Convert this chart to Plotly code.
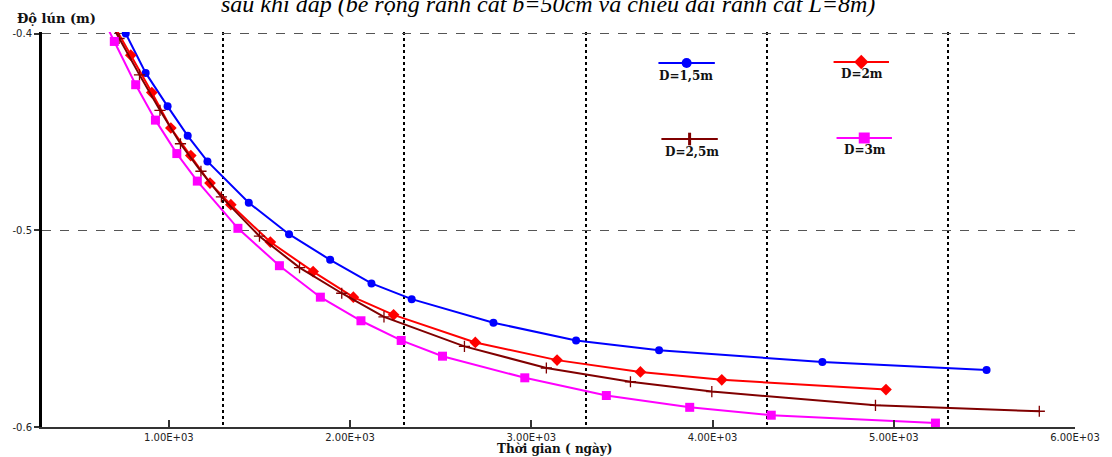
import plotly.graph_objects as go

# ---------------- data ----------------
x_d15 = [652, 762, 872, 993, 1104, 1213, 1441, 1663, 1890, 2118, 2340, 2791, 3247, 3705, 4606, 5512]
y_d15 = [-0.380, -0.400, -0.420, -0.437, -0.452, -0.465, -0.486, -0.502, -0.515, -0.527, -0.535,
         -0.547, -0.556, -0.561, -0.567, -0.571]

x_d20 = [686, 790, 906, 1011, 1121, 1227, 1342, 1560, 1796, 2018, 2240, 2691, 3142, 3602, 4051, 4957]
y_d20 = [-0.394, -0.411, -0.430, -0.448, -0.462, -0.476, -0.487, -0.506, -0.521, -0.534, -0.543,
         -0.557, -0.566, -0.572, -0.576, -0.581]

x_d25 = [612, 725, 838, 951, 1064, 1177, 1290, 1500, 1721, 1954, 2187, 2631, 3083, 3547, 3996, 4899, 5803]
y_d25 = [-0.3835, -0.4025, -0.421, -0.439, -0.456, -0.470, -0.483, -0.503, -0.519, -0.532, -0.544,
         -0.559, -0.570, -0.577, -0.582, -0.589, -0.592]

x_d30 = [584, 699, 817, 926, 1044, 1157, 1381, 1610, 1836, 2060, 2282, 2510, 2964, 3414, 3874, 4324, 5230]
y_d30 = [-0.3826, -0.404, -0.426, -0.444, -0.461, -0.475, -0.499, -0.518, -0.534, -0.546, -0.556,
         -0.564, -0.575, -0.584, -0.590, -0.594, -0.598]

series_names = ["D=1,5m", "D=2m", "D=2,5m", "D=3m"]

x_tickvals = [1000, 2000, 3000, 4000, 5000, 6000]
x_ticktext = ["1.00E+03", "2.00E+03", "3.00E+03", "4.00E+03", "5.00E+03", "6.00E+03"]
x_gridvals = [1300, 2300, 3300, 4300, 5300]
y_tickvals = [-0.6, -0.5, -0.4]
y_ticktext = ["-0.6", "-0.5", "-0.4"]

title_text = "sau khi đắp (bề rộng rãnh cát b=50cm và chiều dài rãnh cát L=8m)"
y_title = "Độ lún (m)"
x_title = "Thời gian ( ngày)"

# ---------------- styles ----------------
colors = ["#0000FF", "#FF0000", "#800000", "#FF00FF"]
markers = [
    dict(symbol="circle", size=8, color=colors[0]),
    dict(symbol="diamond", size=9, color=colors[1]),
    dict(symbol="cross-thin", size=8, color=colors[2], line=dict(color=colors[2], width=1.3)),
    dict(symbol="square", size=9, color=colors[3]),
]
legend_markers = [
    dict(symbol="circle", size=10, color=colors[0]),
    dict(symbol="diamond", size=11, color=colors[1]),
    dict(symbol="line-ns", size=9, color=colors[2], line=dict(color=colors[2], width=3)),
    dict(symbol="square", size=11, color=colors[3]),
]
# legend layout in pixel units of overlay axes: (x_left, x_right, y_line, x_text, y_text)
legend_pos = [
    (660, 717, 63, 688, 76),
    (837, 893, 62, 866, 74),
    (663, 720, 139, 694, 152),
    (840, 896, 138, 869, 150),
]

serif_bold = "DejaVu Serif"
sans = "DejaVu Sans"

fig = go.Figure()
xs = [x_d15, x_d20, x_d25, x_d30]
ys = [y_d15, y_d20, y_d25, y_d30]
for i in range(4):
    fig.add_trace(go.Scatter(
        x=xs[i], y=ys[i], mode="lines+markers", name=series_names[i],
        line=dict(color=colors[i], width=2), marker=markers[i], showlegend=False,
    ))

# legend samples on overlay pixel axes
for i in range(4):
    xl, xr, yl, xt, yt = legend_pos[i]
    fig.add_trace(go.Scatter(
        x=[xl, xr], y=[yl, yl], mode="lines", line=dict(color=colors[i], width=2),
        xaxis="x2", yaxis="y2", showlegend=False, hoverinfo="skip", cliponaxis=False,
    ))
    fig.add_trace(go.Scatter(
        x=[(xl + xr) / 2], y=[yl], mode="markers", marker=legend_markers[i],
        xaxis="x2", yaxis="y2", showlegend=False, hoverinfo="skip", cliponaxis=False,
    ))
    fig.add_annotation(
        x=xt, y=yt, xref="x2", yref="y2", text="<b>" + series_names[i] + "</b>",
        showarrow=False, xanchor="center", yanchor="middle",
        font=dict(family=serif_bold, size=12, color="#111111"),
    )

# titles
fig.add_annotation(
    x=0.49, y=1.07, xref="paper", yref="paper", text="<i>" + title_text + "</i>",
    showarrow=False, xanchor="center", yanchor="middle",
    font=dict(family="Liberation Serif", size=24, color="#000000"),
)
fig.add_annotation(
    x=-0.026, y=1.034, xref="paper", yref="paper", text="<b>" + y_title + "</b>",
    showarrow=False, xanchor="left", yanchor="middle",
    font=dict(family=serif_bold, size=13, color="#111111"),
)
fig.add_annotation(
    x=0.496, y=-0.056, xref="paper", yref="paper", text="<b>" + x_title + "</b>",
    showarrow=False, xanchor="center", yanchor="middle",
    font=dict(family=serif_bold, size=12, color="#111111"),
)

fig.update_layout(
    width=1112, height=457,
    margin=dict(l=37, r=31, t=32, b=30),
    paper_bgcolor="white", plot_bgcolor="white",
    showlegend=False,
    xaxis=dict(
        range=[300, 6000], tickmode="array", tickvals=x_tickvals, ticktext=x_ticktext,
        showgrid=False, zeroline=False,
        showline=True, linecolor="#333333", linewidth=2,
        ticks="inside", ticklen=7, tickwidth=1.5, tickcolor="#333333",
        tickfont=dict(family=sans, size=10, color="#222222"),
        minor=dict(tickmode="array", tickvals=x_gridvals, showgrid=True, gridcolor="#000000",
                   griddash="dot", gridwidth=1.5, ticks=""),
    ),
    yaxis=dict(
        range=[-0.6, -0.3992], tickmode="array", tickvals=y_tickvals, ticktext=y_ticktext,
        showgrid=True, gridcolor="#555555", griddash="dash", gridwidth=1,
        zeroline=False, showline=True, linecolor="#000000", linewidth=3,
        ticks="outside", ticklen=5, tickwidth=1.5, tickcolor="#333333",
        tickfont=dict(family=sans, size=10, color="#222222"),
    ),
    xaxis2=dict(range=[37, 1081], overlaying="x", visible=False, fixedrange=True),
    yaxis2=dict(range=[427, 32], overlaying="y", visible=False, fixedrange=True),
)

fig.write_html("out.html")
